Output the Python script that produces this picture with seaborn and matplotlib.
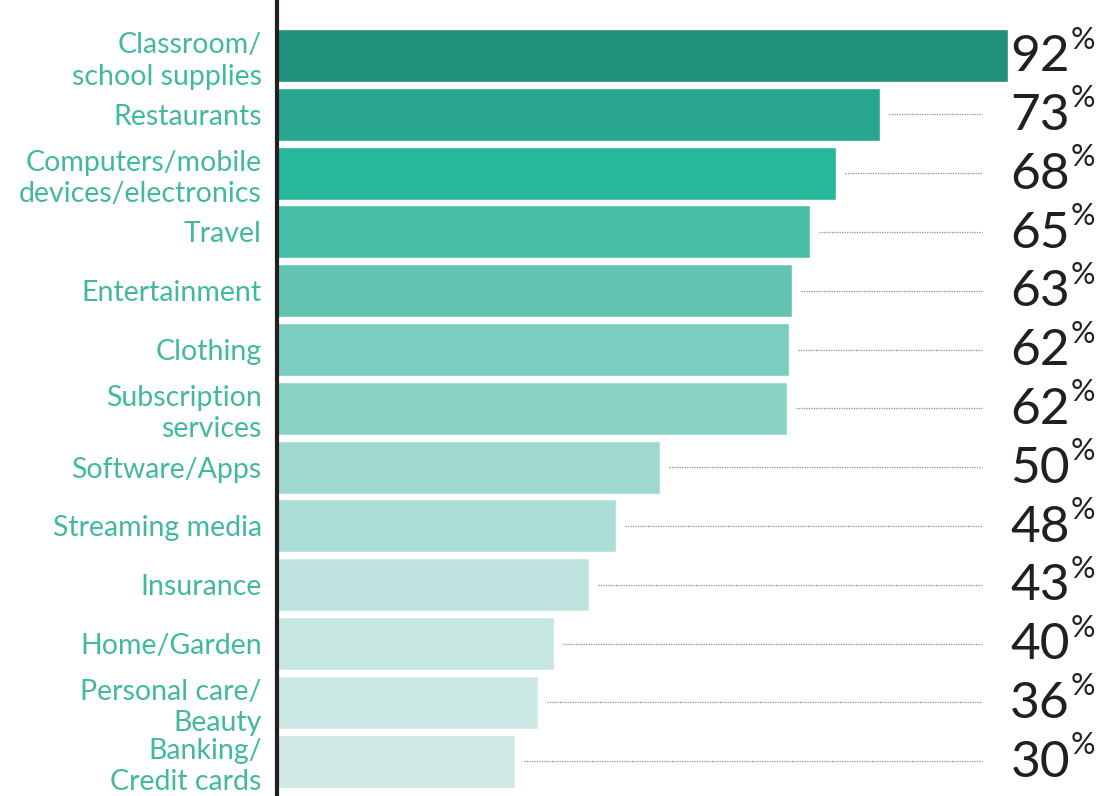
import matplotlib
matplotlib.use("Agg")
import matplotlib.pyplot as plt
import seaborn as sns
import pandas as pd

categories = [
    "Classroom/\nschool supplies",
    "Restaurants",
    "Computers/mobile\ndevices/electronics",
    "Travel",
    "Entertainment",
    "Clothing",
    "Subscription\nservices",
    "Software/Apps",
    "Streaming media",
    "Insurance",
    "Home/Garden",
    "Personal care/\nBeauty",
    "Banking/\nCredit cards",
]
# printed values
values = [92, 73, 68, 65, 63, 62, 62, 50, 48, 43, 40, 36, 30]
# bar lengths as drawn in the picture (same % scale as the 92% bar)
bar_lengths = [92, 75.9, 70.4, 67.1, 64.8, 64.4, 64.2, 48.2, 42.7, 39.3, 34.9, 32.8, 30.0]
colors = ["#21907a", "#29a690", "#27b89c", "#46bfa6", "#60c4b1", "#7bcdbf",
          "#8bd2c5", "#9ed8ce", "#acddd6", "#bee3df", "#c5e6e1", "#cce8e4", "#d0e8e5"]

sns.set_theme(style="white")
plt.rcParams["font.family"] = ["Lato", "DejaVu Sans"]

df = pd.DataFrame({"category": categories, "length": bar_lengths})

W, H = 1112, 796
fig = plt.figure(figsize=(W / 100, H / 100), dpi=100)
left_px = 277
ax = fig.add_axes([left_px / W, 0, 1 - left_px / W, 1])

sns.barplot(data=df, x="length", y="category", hue="category", palette=colors,
            legend=False, width=0.9, saturation=1, ax=ax, orient="h")

px_per_unit = 731 / 92
ax.set_xlim(0, (W - left_px) / px_per_unit)
# bar i center at pixel 55.5 + 58.8*i
ax.set_ylim((H - 55.5) / 58.8, -55.5 / 58.8)

for s in ["top", "right", "bottom"]:
    ax.spines[s].set_visible(False)
ax.spines["left"].set_color("#231f20")
ax.spines["left"].set_linewidth(3.0)
ax.set_xticks([])
ax.set_xlabel("")
ax.set_ylabel("")
ax.tick_params(axis="y", length=0, pad=11)
for lbl in ax.get_yticklabels():
    lbl.set_color("#42b99e")
    lbl.set_fontsize(20.5)
    lbl.set_horizontalalignment("right")
    lbl.set_multialignment("right")
    lbl.set_linespacing(1.27)

dot_end = (982 - left_px) / px_per_unit
num_x = (1070 - left_px) / px_per_unit
pct_x = (1071 - left_px) / px_per_unit
for i, (v, L) in enumerate(zip(values, bar_lengths)):
    if i > 0:
        ax.hlines(i, L + 9 / px_per_unit, dot_end, colors="#8a8a8a",
                  linestyles=(0, (1, 1)), linewidth=0.9)
    ax.text(num_x, i + 0.03, f"{v}", ha="right", va="center", fontsize=37,
            color="#231f20", fontweight="normal")
    ax.text(pct_x, i - 0.27, "%", ha="left", va="center", fontsize=22,
            color="#231f20", fontweight="normal")

fig.savefig("out.png", dpi=100)
